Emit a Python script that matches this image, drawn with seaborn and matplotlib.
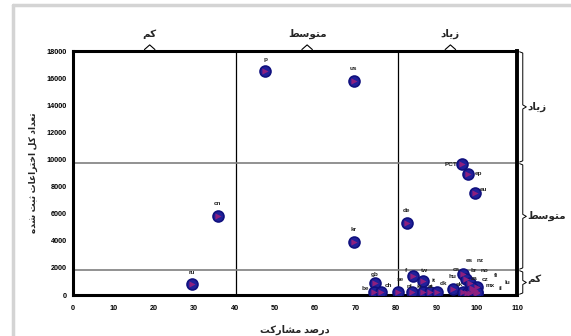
import matplotlib
matplotlib.use("Agg")
import matplotlib.pyplot as plt
import matplotlib.transforms as mtransforms
from matplotlib.lines import Line2D
import seaborn as sns
import pandas as pd

# ---- data ----
codes = ["p", "us", "cn", "ru", "kr", "de", "PCT", "ep", "eu",
         "gb", "be", "ch", "se", "nl", "f", "tw", "ie", "at", "it",
         "dk", "ca", "hu", "sk", "za", "br", "no", "es", "nz", "cz",
         "mx", "fi", "il", "lu"]
participation = [47.6, 69.5, 35.9, 29.4, 69.5, 82.7, 96.3, 97.9, 99.6,
                 74.8, 74.6, 76.2, 80.6, 83.9, 84.3, 86.6, 86.6, 88.5, 90.3,
                 94.1, 96.7, 96.6, 97.6, 97.4, 98.4, 99.6, 98.4, 99.8, 100.0,
                 99.2, 98.9, 100.0, 100.2]
patents = [16500, 15800, 5850, 810, 3930, 5330, 9660, 8930, 7500,
           860, 230, 200, 200, 230, 1420, 1030, 200, 200, 200,
           420, 1550, 240, 180, 1160, 880, 370, 170, 200, 600,
           300, 500, 150, 250]

x_ticks = list(range(0, 111, 10))
y_ticks = list(range(0, 18001, 2000))
x_cuts = [40.5, 80.5]
y_cuts = [1850, 9750]
x_groups = ["کم", "متوسط", "زیاد"]
y_groups = ["کم", "متوسط", "زیاد"]
x_label = "درصد مشارکت"
y_label = "تعداد کل اختراعات ثبت شده"

# label placement for crowded points (data units); others sit above the marker
label_pos = {
    "PCT": (95.2, 9450, "right"), "ep": (99.5, 8750, "left"), "eu": (100.8, 7600, "left"),
    "gb": (74.8, 1300, "center"), "be": (72.3, 330, "center"), "ch": (78.1, 500, "center"),
    "se": (81.0, 950, "center"), "nl": (83.3, 450, "center"), "f": (82.6, 1650, "center"),
    "tw": (87.0, 1650, "center"), "ie": (85.8, 450, "center"), "at": (88.5, 450, "center"),
    "it": (89.4, 900, "center"), "dk": (91.9, 700, "center"), "ca": (95.0, 1700, "center"),
    "hu": (94.1, 1150, "center"), "sk": (95.6, 600, "center"), "za": (99.4, 1000, "center"),
    "br": (99.2, 1620, "center"), "no": (101.9, 1620, "center"), "es": (98.2, 2350, "center"),
    "nz": (100.8, 2350, "center"), "cz": (102.0, 950, "center"), "mx": (103.4, 480, "center"),
    "fi": (104.9, 1250, "center"), "il": (106.0, 300, "center"), "lu": (107.7, 720, "center"),
}

# ---- minimal Persian shaping (matplotlib has no text shaping) ----
FORMS = {  # isolated, final, initial, medial
    "ا": ("\uFE8D", "\uFE8E", None, None), "ب": ("\uFE8F", "\uFE90", "\uFE91", "\uFE92"),
    "ت": ("\uFE95", "\uFE96", "\uFE97", "\uFE98"), "ث": ("\uFE99", "\uFE9A", "\uFE9B", "\uFE9C"),
    "خ": ("\uFEA5", "\uFEA6", "\uFEA7", "\uFEA8"), "د": ("\uFEA9", "\uFEAA", None, None),
    "ر": ("\uFEAD", "\uFEAE", None, None), "ز": ("\uFEAF", "\uFEB0", None, None),
    "س": ("\uFEB1", "\uFEB2", "\uFEB3", "\uFEB4"), "ش": ("\uFEB5", "\uFEB6", "\uFEB7", "\uFEB8"),
    "ص": ("\uFEB9", "\uFEBA", "\uFEBB", "\uFEBC"), "ط": ("\uFEC1", "\uFEC2", "\uFEC3", "\uFEC4"),
    "ع": ("\uFEC9", "\uFECA", "\uFECB", "\uFECC"), "ل": ("\uFEDD", "\uFEDE", "\uFEDF", "\uFEE0"),
    "م": ("\uFEE1", "\uFEE2", "\uFEE3", "\uFEE4"), "ه": ("\uFEE9", "\uFEEA", "\uFEEB", "\uFEEC"),
    "و": ("\uFEED", "\uFEEE", None, None), "ک": ("\uFB8E", "\uFB8F", "\uFB90", "\uFB91"),
    "ی": ("\uFBFC", "\uFBFD", "\uFBFE", "\uFBFF"),
}


def fa(text):
    out = []
    for i, ch in enumerate(text):
        if ch not in FORMS:
            out.append(ch)
            continue
        prev = text[i - 1] if i > 0 else ""
        nxt = text[i + 1] if i + 1 < len(text) else ""
        join_prev = prev in FORMS and FORMS[prev][2] is not None
        join_next = nxt in FORMS and FORMS[ch][2] is not None
        iso, fin, ini, med = FORMS[ch]
        if join_prev and join_next:
            out.append(med)
        elif join_prev:
            out.append(fin)
        elif join_next:
            out.append(ini)
        else:
            out.append(iso)
    return "".join(reversed(out))


sns.set_theme(style="white")
plt.rcParams["font.family"] = ["Liberation Sans", "DejaVu Sans"]

df = pd.DataFrame({"code": codes, "participation": participation, "patents": patents})

fig = plt.figure(figsize=(5.71, 3.36), dpi=100)
ax = fig.add_axes([73 / 571, 1 - 295 / 336, 444 / 571, 244 / 336])

# light grey frame round the picture
fig.add_artist(Line2D([13 / 571, 13 / 571], [0, 1 - 5 / 336], color="#d4d4d4", lw=2.5,
                      transform=fig.transFigure))
fig.add_artist(Line2D([13 / 571, 1], [1 - 5 / 336, 1 - 5 / 336], color="#d4d4d4", lw=2.5,
                      transform=fig.transFigure))

for xc in x_cuts:
    ax.axvline(xc, color="black", lw=0.9, zorder=1)
for yc in y_cuts:
    ax.axhline(yc, color="#7f7f7f", lw=1.2, zorder=1)

sns.scatterplot(data=df, x="participation", y="patents", ax=ax, marker="o", s=62,
                color="#20209a", edgecolor="#10107e", linewidth=1.2, zorder=3, legend=False)
sns.scatterplot(data=df, x="participation", y="patents", ax=ax, marker=">", s=20,
                color="#8e1f7e", linewidth=0, zorder=4, legend=False)

for c, xv, yv in zip(codes, participation, patents):
    if c in label_pos:
        lx, ly, ha = label_pos[c]
    else:
        lx, ly, ha = xv, yv + 700, "center"
    ax.text(lx, ly, c, fontsize=4.6, fontweight="bold", ha=ha, va="bottom",
            color="#222222", zorder=5)

ax.set_xlim(0, 110)
ax.set_ylim(0, 18000)
ax.set_xticks(x_ticks)
ax.set_yticks(y_ticks)
ax.tick_params(axis="both", direction="out", length=2.5, width=1.5, labelsize=5.2,
               pad=2, colors="black")
ax.tick_params(axis="x", pad=5)
for lab in ax.get_xticklabels() + ax.get_yticklabels():
    lab.set_fontweight("bold")
for sp in ax.spines.values():
    sp.set_color("black")
    sp.set_linewidth(2.2)
ax.spines["right"].set_linewidth(2.8)

ax.set_xlabel(fa(x_label), fontsize=7, fontweight="bold", labelpad=9)
ax.set_ylabel(fa(y_label), fontsize=6.5, fontweight="bold", labelpad=6)

# top group labels with small caret marks on the top spine
top_tr = mtransforms.blended_transform_factory(ax.transData, ax.transAxes)
top_centres = [19, 58, 93.5]
for mid, name in zip(top_centres, x_groups):
    ax.plot([mid - 1.3, mid, mid + 1.3], [1.006, 1.025, 1.006], color="black", lw=0.8,
            transform=top_tr, clip_on=False)
    ax.text(mid, 1.05, fa(name), fontsize=7.5, fontweight="bold", ha="center", va="bottom",
            transform=top_tr)

# right-hand curly braces
right_tr = mtransforms.blended_transform_factory(ax.transAxes, ax.transData)
y_bounds = [0] + y_cuts + [18000]
for i, name in enumerate(y_groups):
    y0, y1 = y_bounds[i], y_bounds[i + 1]
    ym = (y0 + y1) / 2
    e = 150
    x0, x1, x2 = 1.006, 1.013, 1.021
    ax.plot([x0, x1, x1, x2, x1, x1, x0],
            [y0 + 60, y0 + e, ym - e, ym, ym + e, y1 - e, y1 - 60],
            color="black", lw=0.7, transform=right_tr, clip_on=False)
    ax.text(1.024, ym + (250 if i == 0 else 0), fa(name), fontsize=7.5, fontweight="bold",
            ha="left", va="center", transform=right_tr)

fig.savefig("out.png", dpi=100)
